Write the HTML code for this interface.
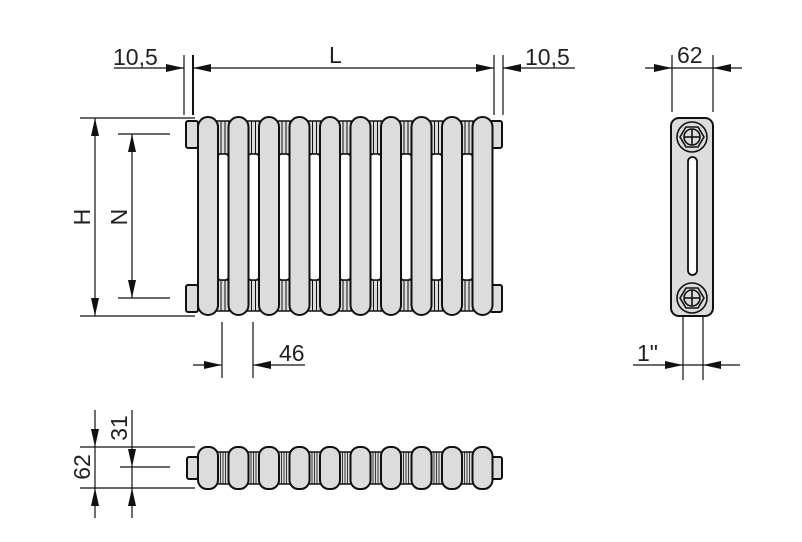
<!DOCTYPE html>
<html><head><meta charset="utf-8"><style>
html,body{margin:0;padding:0;background:#fff}
svg{display:block}
text{font-family:"Liberation Sans",Arial,sans-serif;font-size:23px;fill:#222}
</style></head><body>
<svg width="802" height="542" viewBox="0 0 802 542" xmlns="http://www.w3.org/2000/svg">
<defs>
<g id="col">
<rect x="0" y="0" width="20" height="198" rx="10" fill="#dcdcdc" stroke="#111" stroke-width="2"/>
</g>
<g id="gap">
<rect x="19" y="4" width="12" height="33" fill="#dcdcdc" stroke="#111" stroke-width="1.5"/>
<rect x="19" y="163" width="12" height="31" fill="#dcdcdc" stroke="#111" stroke-width="1.5"/>
<line x1="23" y1="4" x2="23" y2="37" stroke="#111" stroke-width="1"/>
<line x1="27" y1="4" x2="27" y2="37" stroke="#111" stroke-width="1"/>
<line x1="23" y1="163" x2="23" y2="194" stroke="#111" stroke-width="1"/>
<line x1="27" y1="163" x2="27" y2="194" stroke="#111" stroke-width="1"/>
<rect x="19" y="37" width="12" height="126" rx="4" fill="#fff" stroke="#111" stroke-width="1.5"/>
</g>
<g id="bcol">
<rect x="0" y="0" width="20" height="42" rx="9" fill="#dcdcdc" stroke="#111" stroke-width="2"/>
</g>
<g id="bgap">
<rect x="19" y="5" width="12" height="32" fill="#dcdcdc" stroke="#111" stroke-width="1.5"/>
<line x1="22.5" y1="5" x2="22.5" y2="37" stroke="#111" stroke-width="0.8"/>
<line x1="25" y1="5" x2="25" y2="37" stroke="#111" stroke-width="0.8"/>
<line x1="27.5" y1="5" x2="27.5" y2="37" stroke="#111" stroke-width="0.8"/>
</g>
</defs>

<g stroke="#111" stroke-width="1.2" fill="none">
<line x1="184" y1="55" x2="184" y2="115"/><line x1="193" y1="55" x2="193" y2="115" stroke-width="2"/>
<line x1="494" y1="55" x2="494" y2="115"/><line x1="503" y1="55" x2="503" y2="115"/>
<line x1="114" y1="68" x2="184" y2="68"/>
<line x1="193" y1="68" x2="494" y2="68"/>
<line x1="575" y1="68" x2="503" y2="68"/>
<line x1="80" y1="118" x2="195" y2="118"/><line x1="80" y1="316" x2="195" y2="316"/>
<line x1="95" y1="118" x2="95" y2="316"/>
<line x1="118" y1="134" x2="170" y2="134"/><line x1="118" y1="298" x2="170" y2="298"/>
<line x1="132" y1="134" x2="132" y2="298"/>
<line x1="222" y1="322" x2="222" y2="378"/><line x1="253" y1="322" x2="253" y2="378"/>
<line x1="193" y1="365" x2="222" y2="365"/>
<line x1="305" y1="365" x2="253" y2="365"/>
<line x1="672" y1="55" x2="672" y2="112"/><line x1="713" y1="55" x2="713" y2="112"/>
<line x1="645" y1="68" x2="742" y2="68"/>
<line x1="683" y1="305" x2="683" y2="380"/><line x1="703" y1="305" x2="703" y2="380"/>
<line x1="633" y1="365" x2="740" y2="365"/>
<line x1="80" y1="447" x2="195" y2="447"/><line x1="80" y1="488" x2="195" y2="488"/>
<line x1="120" y1="467" x2="170" y2="467"/>
<line x1="95" y1="410" x2="95" y2="518"/>
<line x1="132" y1="410" x2="132" y2="518"/>
</g>
<g fill="#111">
<polygon points="166,64 184,68 166,72"/>
<polygon points="476,64 494,68 476,72"/>
<polygon points="204,361 222,365 204,369"/>
<polygon points="654,64 672,68 654,72"/>
<polygon points="665,361 683,365 665,369"/>
<polygon points="211,64 193,68 211,72"/>
<polygon points="521,64 503,68 521,72"/>
<polygon points="271,361 253,365 271,369"/>
<polygon points="731,64 713,68 731,72"/>
<polygon points="721,361 703,365 721,369"/>
<polygon points="91,136 95,118 99,136"/>
<polygon points="91,298 95,316 99,298"/>
<polygon points="128,152 132,134 136,152"/>
<polygon points="128,280 132,298 136,280"/>
<polygon points="91,429 95,447 99,429"/>
<polygon points="91,506 95,488 99,506"/>
<polygon points="128,449 132,467 136,449"/>
<polygon points="128,506 132,488 136,506"/>
</g>

<text x="113" y="65">10,5</text>
<text x="329" y="63">L</text>
<text x="525" y="65">10,5</text>
<text x="677" y="63">62</text>
<text x="279" y="361">46</text>
<text x="637" y="361">1"</text>
<text transform="translate(90,217) rotate(-90)" text-anchor="middle">H</text>
<text transform="translate(127,217) rotate(-90)" text-anchor="middle">N</text>
<text transform="translate(90,467) rotate(-90)" text-anchor="middle">62</text>
<text transform="translate(127,428) rotate(-90)" text-anchor="middle">31</text>

<g stroke="#111" stroke-width="2" fill="#dcdcdc">
<rect x="186" y="121" width="12" height="27" rx="2"/><rect x="186" y="285" width="12" height="27" rx="2"/>
<rect x="490" y="121" width="12" height="27" rx="2"/><rect x="490" y="285" width="12" height="27" rx="2"/>
</g>
<g transform="translate(198,117)">
<use href="#gap"/><use href="#gap" x="30.5"/><use href="#gap" x="61"/><use href="#gap" x="91.5"/><use href="#gap" x="122"/><use href="#gap" x="152.5"/><use href="#gap" x="183"/><use href="#gap" x="213.5"/><use href="#gap" x="244"/>
<use href="#col"/><use href="#col" x="30.5"/><use href="#col" x="61"/><use href="#col" x="91.5"/><use href="#col" x="122"/><use href="#col" x="152.5"/><use href="#col" x="183"/><use href="#col" x="213.5"/><use href="#col" x="244"/><use href="#col" x="274.5"/>
</g>

<g stroke="#111" stroke-width="2" fill="#dcdcdc">
<rect x="187" y="457" width="11" height="22" rx="2"/><rect x="491" y="457" width="11" height="22" rx="2"/>
</g>
<g transform="translate(198,447)">
<use href="#bgap"/><use href="#bgap" x="30.5"/><use href="#bgap" x="61"/><use href="#bgap" x="91.5"/><use href="#bgap" x="122"/><use href="#bgap" x="152.5"/><use href="#bgap" x="183"/><use href="#bgap" x="213.5"/><use href="#bgap" x="244"/>
<use href="#bcol"/><use href="#bcol" x="30.5"/><use href="#bcol" x="61"/><use href="#bcol" x="91.5"/><use href="#bcol" x="122"/><use href="#bcol" x="152.5"/><use href="#bcol" x="183"/><use href="#bcol" x="213.5"/><use href="#bcol" x="244"/><use href="#bcol" x="274.5"/>
</g>

<rect x="671" y="118" width="42" height="198" rx="8" fill="#dcdcdc" stroke="#111" stroke-width="2"/>
<rect x="688" y="157" width="9" height="118" rx="4.5" fill="#fff" stroke="#111" stroke-width="1.8"/>
<g stroke="#111" stroke-width="1.6" fill="#dcdcdc">
<circle cx="692" cy="137" r="15"/>
<polygon points="680,137 686,127 698,127 704,137 698,147 686,147"/>
<circle cx="692" cy="137" r="8"/>
<line x1="692" y1="129" x2="692" y2="145"/><line x1="684" y1="137" x2="700" y2="137"/>
<circle cx="692" cy="298" r="15"/>
<polygon points="680,298 686,288 698,288 704,298 698,308 686,308"/>
<circle cx="692" cy="298" r="8"/>
<line x1="692" y1="290" x2="692" y2="306"/><line x1="684" y1="298" x2="700" y2="298"/>
</g>
</svg>
</body></html>
